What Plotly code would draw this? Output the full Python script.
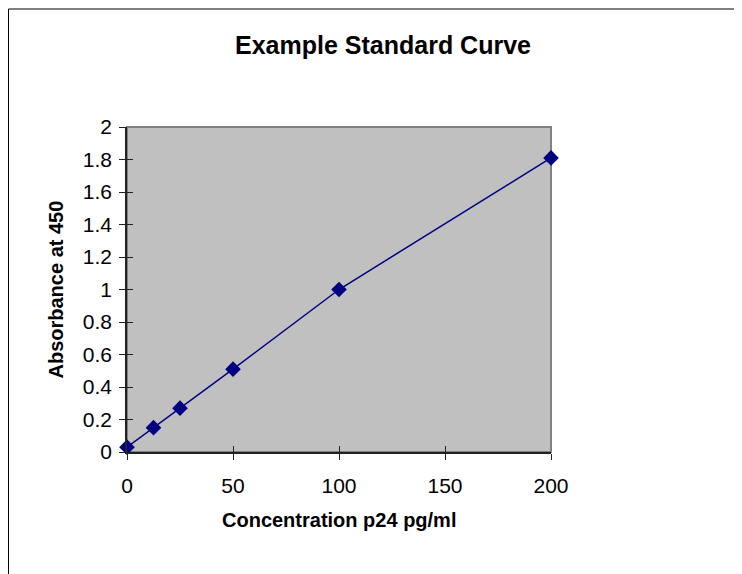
import plotly.graph_objects as go

concentration = [0, 12.5, 25, 50, 100, 200]
absorbance = [0.03, 0.15, 0.27, 0.51, 1.0, 1.81]

title_text = "Example Standard Curve"
x_title = "Concentration p24 pg/ml"
y_title = "Absorbance at 450"

OFF = 8  # page body margin
W, H = 742 - OFF, 574 - OFF
L, R, T, B = 127 - OFF, 551 - OFF, 127 - OFF, 452 - OFF
FONT = "Arial, Liberation Sans, sans-serif"

fig = go.Figure()
fig.add_trace(go.Scatter(
    x=concentration, y=absorbance, mode="lines+markers",
    line=dict(color="#000080", width=1.5),
    marker=dict(symbol="diamond", size=12, color="#000080"),
    cliponaxis=False, showlegend=False, xaxis="x", yaxis="y",
))
fig.add_trace(go.Scatter(x=[None], y=[None], xaxis="x2", yaxis="y2",
                         showlegend=False, hoverinfo="skip"))

pw, ph = R - L, B - T
def px_x(p):
    return (p - OFF - L) / pw
def px_y(p):
    return (B - (p - OFF)) / ph

fig.update_layout(
    width=W, height=H,
    margin=dict(l=L, r=W - R, t=T, b=H - B, pad=0),
    paper_bgcolor="white", plot_bgcolor="#C0C0C0",
    font=dict(family=FONT, color="black", size=21),
    title=dict(text=title_text, x=(383 - OFF) / W, xref="container", xanchor="center",
               y=1 - (45 - OFF) / H, yref="container", yanchor="middle",
               font=dict(family=FONT, size=25, color="black", weight="bold")),
    xaxis=dict(range=[0, 200], dtick=50, tick0=0, showgrid=False, zeroline=False,
               showline=True, linecolor="#222222", linewidth=1.5,
               ticks="outside", ticklen=6, tickwidth=1, tickcolor="#222222",
               tickfont=dict(size=21), ticklabelstandoff=8),
    yaxis=dict(range=[0, 2], dtick=0.2, tick0=0, showgrid=False, zeroline=False,
               showline=True, linecolor="#222222", linewidth=1.5,
               ticks="outside", ticklen=6, tickwidth=1, tickcolor="#222222",
               tickfont=dict(size=21), ticklabelstandoff=3),
    xaxis2=dict(range=[0, 200], dtick=50, tick0=0, overlaying="x", anchor="y",
                showgrid=False, zeroline=False, showticklabels=False,
                ticks="inside", ticklen=6, tickwidth=1, tickcolor="#222222"),
    yaxis2=dict(range=[0, 2], dtick=0.2, tick0=0, overlaying="y", anchor="x",
                showgrid=False, zeroline=False, showticklabels=False,
                ticks="inside", ticklen=6, tickwidth=1, tickcolor="#222222"),
    shapes=[
        dict(type="rect", xref="paper", yref="paper", x0=0, x1=1, y0=0, y1=1,
             line=dict(color="#808080", width=2), layer="below"),
        dict(type="rect", xref="paper", yref="paper",
             x0=px_x(OFF + 0.5), x1=px_x(760), y0=px_y(590), y1=px_y(9),
             line=dict(color="black", width=1), layer="below"),
    ],
    annotations=[
        dict(text=x_title, xref="paper", yref="paper", x=0.5, y=px_y(520),
             xanchor="center", yanchor="middle", showarrow=False,
             font=dict(family=FONT, size=20, color="black", weight="bold")),
        dict(text=y_title, xref="paper", yref="paper", x=px_x(55), y=0.5,
             xanchor="center", yanchor="middle", showarrow=False, textangle=-90,
             font=dict(family=FONT, size=20, color="black", weight="bold")),
    ],
)

fig.write_html("out.html")
